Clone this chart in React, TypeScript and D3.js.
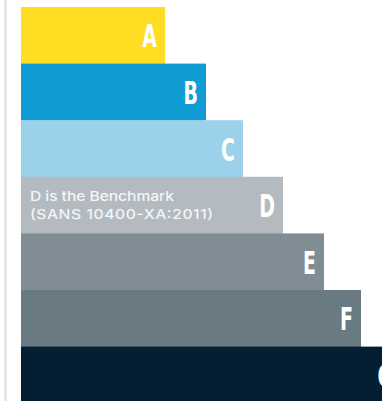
import React from "react";
import * as d3 from "d3";

const categories = ["A", "B", "C", "D", "E", "F", "G"];
const values = [144, 185, 222, 262, 303, 340, 380];
const colors = ["#FEDD22", "#109DD3", "#9CD1EC", "#B3BAC0", "#808D94", "#697A83", "#041F31"];
const benchmarkLines = ["D is the Benchmark", "(SANS 10400-XA:2011)"];
const benchmarkCategory = "D";

const W = 382;
const H = 401;
const benchmarkWidths = [144, 183];
const stretch = 1.16;

export default function App() {
  const x = d3.scaleLinear().domain([0, 400]).range([21, 421]);
  const y = d3
    .scaleBand<string>()
    .domain(categories)
    .range([7, 7 + 56.6 * categories.length])
    .paddingInner(0)
    .paddingOuter(0);

  return (
    <svg
      width={W}
      height={H}
      style={{ position: "absolute", left: 0, top: 0, display: "block" }}
    >
      <rect x={0} y={0} width={W} height={H} fill="#ffffff" />
      <rect x={4} y={0} width={3} height={H} fill="#e6e6e6" />
      {categories.map((c, i) => {
        const y0 = y(c)!;
        const bw = y.bandwidth();
        const x1 = x(values[i]);
        const cy = y0 + bw / 2;
        return (
          <g key={c}>
            <rect x={x(0)} y={y0} width={x1 - x(0)} height={bw + 0.5} fill={colors[i]} />
            <text
              transform={`translate(${x1 - 8},${cy + 12}) scale(0.68,1.05)`}
              textAnchor="end"
              fill="#ffffff"
              fontFamily="'DejaVu Sans Condensed', 'DejaVu Sans', sans-serif"
              fontWeight={700}
              fontSize={31}
            >
              {c}
            </text>
            {c === benchmarkCategory &&
              benchmarkLines.map((t, k) => (
                <text
                  key={k}
                  transform={`translate(${x(0) + 9},${y0 + 24 + k * 18}) scale(${stretch},1)`}
                  fill="#f4f5f6"
                  fontFamily="Inter, 'Open Sans', sans-serif"
                  fontSize={13.5}
                  fontWeight={500}
                  textLength={benchmarkWidths[k] / stretch}
                  lengthAdjust="spacing"
                >
                  {t}
                </text>
              ))}
          </g>
        );
      })}
    </svg>
  );
}
